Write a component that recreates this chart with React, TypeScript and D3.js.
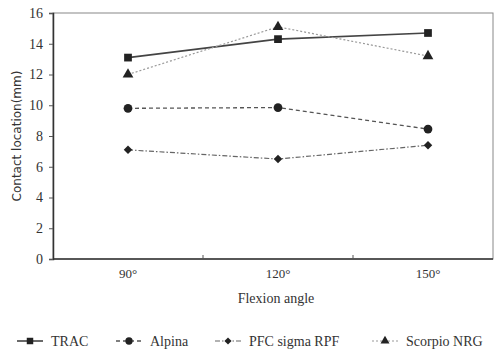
import { useEffect, useRef } from "react"
import * as d3 from "d3"

const angles = ["90°", "120°", "150°"]
const trac = [13.1, 14.3, 14.7]
const alpina = [9.8, 9.85, 8.45]
const pfc = [7.1, 6.5, 7.4]
const scorpio = [12.0, 15.1, 13.2]
const yTicks = [0, 2, 4, 6, 8, 10, 12, 14, 16]

const series = [
  { name: "TRAC", values: trac, marker: "square", dash: "", stroke: "#444", width: 1.6 },
  { name: "Alpina", values: alpina, marker: "circle", dash: "4,3", stroke: "#555", width: 1.3 },
  { name: "PFC sigma RPF", values: pfc, marker: "diamond", dash: "5,2,1.5,2", stroke: "#666", width: 1.2 },
  { name: "Scorpio NRG", values: scorpio, marker: "triangle", dash: "2,2", stroke: "#999", width: 1.2 },
]

const symbolFor: Record<string, d3.SymbolType> = {
  square: d3.symbolSquare,
  circle: d3.symbolCircle,
  diamond: d3.symbolSquare,
  triangle: d3.symbolTriangle,
}
const sizeFor: Record<string, number> = { square: 60, circle: 60, diamond: 36, triangle: 50 }
const rotFor: Record<string, number> = { square: 0, circle: 0, diamond: 45, triangle: 0 }

export default function App() {
  const svgRef = useRef<SVGSVGElement>(null)

  useEffect(() => {
    if (!svgRef.current) return
    const root = d3.select(svgRef.current)
    root.selectAll("*").remove()

    const margin = { top: 13, right: 4, bottom: 91, left: 53 }
    const W = 498
    const H = 350
    const width = W - margin.left - margin.right
    const height = H - margin.top - margin.bottom
    const serif = "'Liberation Serif', 'DejaVu Serif', 'Noto Serif', 'Times New Roman', Times, serif"

    const svg = root.append("g").attr("transform", `translate(${margin.left},${margin.top})`)

    const x = d3.scaleBand<string>().domain(angles).range([0, 450])
    const y = d3.scaleLinear().domain([0, 16]).range([height, 0])

    // frame
    svg.append("rect")
      .attr("width", width - 1)
      .attr("height", height)
      .attr("fill", "none")
      .attr("stroke", "#888")
      .attr("stroke-width", 1)

    // y axis
    const yAxis = svg.append("g").call(d3.axisLeft(y).tickValues(yTicks).tickSize(4).tickPadding(6))
    yAxis.attr("font-family", null)
    yAxis.select(".domain").attr("stroke", "#333").attr("stroke-width", 1.5)
    yAxis.selectAll("line").attr("stroke", "#555")
    yAxis.selectAll("text").attr("fill", "#333").attr("font-family", serif).style("font-family", serif).style("font-size", "14px")

    // x axis
    const xAxis = svg.append("g")
      .attr("transform", `translate(0,${height})`)
      .call(d3.axisBottom(x).tickSize(0).tickPadding(10))
    xAxis.attr("font-family", null)
    xAxis.select(".domain").attr("d", `M0,0H${width - 1}`).attr("stroke", "#333").attr("stroke-width", 1.5)
    xAxis.selectAll("text").attr("fill", "#333").attr("font-family", serif).style("font-family", serif).style("font-size", "13px")

    // small inward ticks between categories
    svg.append("g")
      .selectAll("line")
      .data(angles.slice(1))
      .enter()
      .append("line")
      .attr("x1", (d) => x(d)!)
      .attr("x2", (d) => x(d)!)
      .attr("y1", height)
      .attr("y2", height - 4)
      .attr("stroke", "#555")

    const line = d3.line<number>()
      .x((_, i) => x(angles[i])! + x.bandwidth() / 2)
      .y((d) => y(d))

    series.forEach((s) => {
      svg.append("path")
        .datum(s.values)
        .attr("d", line)
        .attr("fill", "none")
        .attr("stroke", s.stroke)
        .attr("stroke-width", s.width)
        .attr("stroke-dasharray", s.dash || null)
    })

    series.forEach((s) => {
      svg.append("g")
        .selectAll("path")
        .data(s.values)
        .enter()
        .append("path")
        .attr("transform", (d, i) => `translate(${x(angles[i])! + x.bandwidth() / 2},${y(d)}) rotate(${rotFor[s.marker]})`)
        .attr("d", d3.symbol().type(symbolFor[s.marker]).size(sizeFor[s.marker])())
        .attr("fill", "#222")
    })

    // axis titles
    root.append("text")
      .attr("transform", "rotate(-90)")
      .attr("x", -(margin.top + height / 2))
      .attr("y", 21)
      .attr("text-anchor", "middle")
      .attr("fill", "#333")
      .style("font-family", "'DejaVu Sans', sans-serif")
      .style("font-size", "12px")
      .text("Contact location(mm)")

    root.append("text")
      .attr("x", 276)
      .attr("y", 303)
      .attr("text-anchor", "middle")
      .attr("fill", "#333")
      .style("font-family", serif)
      .style("font-size", "14px")
      .text("Flexion angle")

    // legend
    const legendX = [17, 116, 215, 372]
    const legend = root.append("g").attr("transform", "translate(0,341)")
    series.forEach((s, i) => {
      const lx = legendX[i]
      legend.append("line")
        .attr("x1", lx)
        .attr("x2", lx + 26)
        .attr("y1", 0)
        .attr("y2", 0)
        .attr("stroke", s.stroke)
        .attr("stroke-width", s.width)
        .attr("stroke-dasharray", s.dash || null)
      legend.append("path")
        .attr("transform", `translate(${lx + 13},0) rotate(${rotFor[s.marker]})`)
        .attr("d", d3.symbol().type(symbolFor[s.marker]).size(sizeFor[s.marker] * 0.7)())
        .attr("fill", "#222")
      legend.append("text")
        .attr("x", lx + 34)
        .attr("y", 5)
        .attr("fill", "#333")
        .style("font-family", serif)
        .style("font-size", "14px")
        .text(s.name)
    })
  }, [])

  return (
    <svg
      ref={svgRef}
      width={498}
      height={350}
      style={{ position: "absolute", left: 0, top: 0, background: "#fff" }}
    />
  )
}
